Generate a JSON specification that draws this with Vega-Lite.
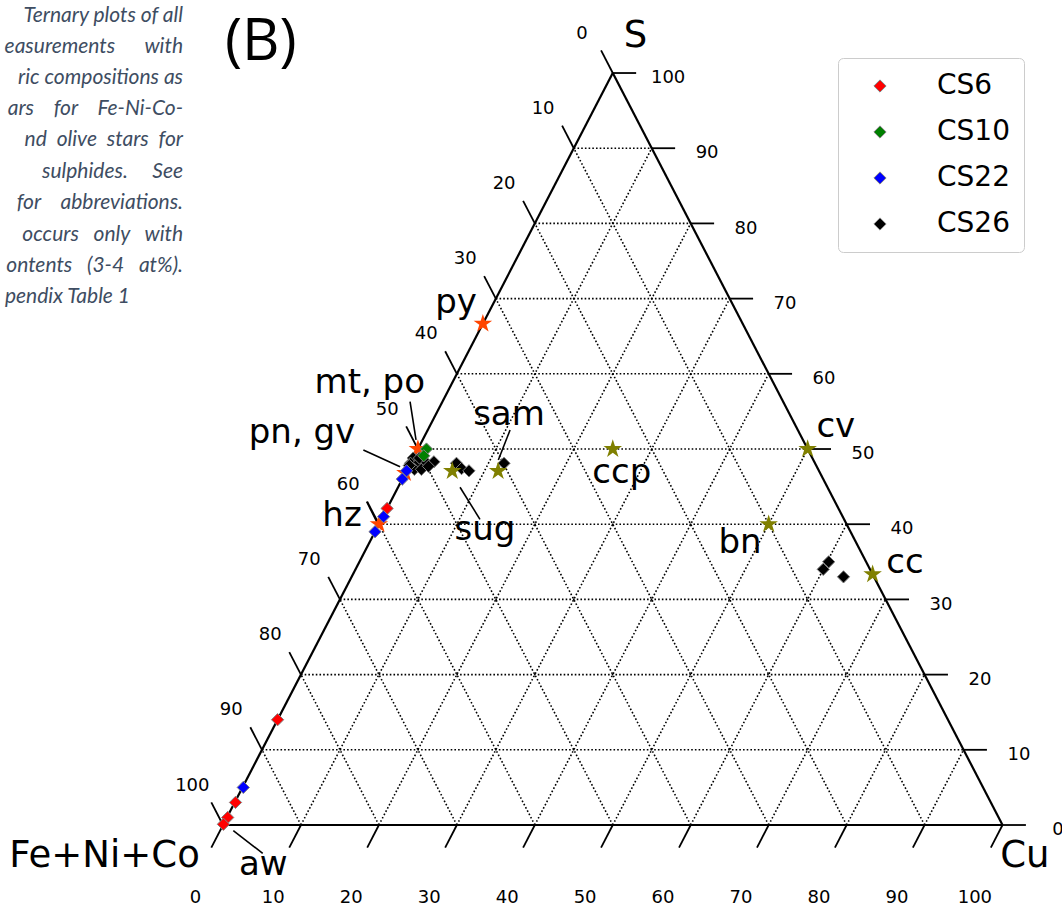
{
  "$schema": "https://vega.github.io/schema/vega-lite/v6.json",
  "width": 1062,
  "height": 906,
  "autosize": {"type": "none"},
  "padding": 0,
  "background": "white",
  "config": {"view": {"stroke": null}},
  "datasets": {
    "grid": [
      {"a": "S", "v": 0}, {"a": "S", "v": 10}, {"a": "S", "v": 20}, {"a": "S", "v": 30}, {"a": "S", "v": 40},
      {"a": "S", "v": 50}, {"a": "S", "v": 60}, {"a": "S", "v": 70}, {"a": "S", "v": 80}, {"a": "S", "v": 90},
      {"a": "Cu", "v": 0}, {"a": "Cu", "v": 10}, {"a": "Cu", "v": 20}, {"a": "Cu", "v": 30}, {"a": "Cu", "v": 40},
      {"a": "Cu", "v": 50}, {"a": "Cu", "v": 60}, {"a": "Cu", "v": 70}, {"a": "Cu", "v": 80}, {"a": "Cu", "v": 90},
      {"a": "F", "v": 0}, {"a": "F", "v": 10}, {"a": "F", "v": 20}, {"a": "F", "v": 30}, {"a": "F", "v": 40},
      {"a": "F", "v": 50}, {"a": "F", "v": 60}, {"a": "F", "v": 70}, {"a": "F", "v": 80}, {"a": "F", "v": 90}
    ],
    "ticks": [
      {"a": "S", "v": 0}, {"a": "S", "v": 10}, {"a": "S", "v": 20}, {"a": "S", "v": 30}, {"a": "S", "v": 40}, {"a": "S", "v": 50},
      {"a": "S", "v": 60}, {"a": "S", "v": 70}, {"a": "S", "v": 80}, {"a": "S", "v": 90}, {"a": "S", "v": 100},
      {"a": "Cu", "v": 0}, {"a": "Cu", "v": 10}, {"a": "Cu", "v": 20}, {"a": "Cu", "v": 30}, {"a": "Cu", "v": 40}, {"a": "Cu", "v": 50},
      {"a": "Cu", "v": 60}, {"a": "Cu", "v": 70}, {"a": "Cu", "v": 80}, {"a": "Cu", "v": 90}, {"a": "Cu", "v": 100},
      {"a": "F", "v": 0}, {"a": "F", "v": 10}, {"a": "F", "v": 20}, {"a": "F", "v": 30}, {"a": "F", "v": 40}, {"a": "F", "v": 50},
      {"a": "F", "v": 60}, {"a": "F", "v": 70}, {"a": "F", "v": 80}, {"a": "F", "v": 90}, {"a": "F", "v": 100}
    ],
    "pts": [
      {"sample": "CS26", "S": 48.8, "Cu": 0.0},
      {"sample": "CS26", "S": 48.1, "Cu": 0.0},
      {"sample": "CS26", "S": 48.1, "Cu": 1.0},
      {"sample": "CS26", "S": 48.3, "Cu": 1.8},
      {"sample": "CS26", "S": 48.3, "Cu": 2.9},
      {"sample": "CS26", "S": 47.3, "Cu": 0.9},
      {"sample": "CS26", "S": 47.3, "Cu": 1.8},
      {"sample": "CS26", "S": 47.7, "Cu": 2.5},
      {"sample": "CS26", "S": 47.8, "Cu": 0.0},
      {"sample": "CS26", "S": 48.8, "Cu": 0.8},
      {"sample": "CS26", "S": 48.1, "Cu": 5.9},
      {"sample": "CS26", "S": 47.4, "Cu": 6.9},
      {"sample": "CS26", "S": 47.1, "Cu": 8.0},
      {"sample": "CS26", "S": 48.1, "Cu": 12.0},
      {"sample": "CS26", "S": 35.0, "Cu": 60.2},
      {"sample": "CS26", "S": 34.0, "Cu": 60.0},
      {"sample": "CS26", "S": 33.0, "Cu": 63.1},
      {"sample": "CS6", "S": 14.0, "Cu": 0.0},
      {"sample": "CS6", "S": 3.0, "Cu": 0.1},
      {"sample": "CS6", "S": 1.0, "Cu": 0.1},
      {"sample": "CS6", "S": 0.1, "Cu": 0.0},
      {"sample": "CS6", "S": 42.1, "Cu": 0.0},
      {"sample": "CS10", "S": 50.0, "Cu": 1.1},
      {"sample": "CS10", "S": 49.1, "Cu": 1.2},
      {"sample": "CS22", "S": 5.0, "Cu": 0.1},
      {"sample": "CS22", "S": 47.1, "Cu": 0.0},
      {"sample": "CS22", "S": 46.0, "Cu": 0.0},
      {"sample": "CS22", "S": 41.0, "Cu": 0.1},
      {"sample": "CS22", "S": 39.0, "Cu": 0.0}
    ],
    "stars": [
      {"m": "py", "g": "Fe", "S": 66.67, "Cu": 0},
      {"m": "mt, po", "g": "Fe", "S": 50.0, "Cu": 0},
      {"m": "pn, gv", "g": "Fe", "S": 46.8, "Cu": 0},
      {"m": "hz", "g": "Fe", "S": 40.0, "Cu": 0},
      {"m": "ccp", "g": "Cu", "S": 50.0, "Cu": 25.0},
      {"m": "cv", "g": "Cu", "S": 50.0, "Cu": 50.0},
      {"m": "bn", "g": "Cu", "S": 40.0, "Cu": 50.0},
      {"m": "cc", "g": "Cu", "S": 33.33, "Cu": 66.67},
      {"m": "sam", "g": "Cu", "S": 47.06, "Cu": 11.76},
      {"m": "sug", "g": "Cu", "S": 47.06, "Cu": 5.88}
    ],
    "names": [
      {"t": "py", "S": 68.09, "Cu": -4.15},
      {"t": "mt, po", "S": 57.45, "Cu": -9.9},
      {"t": "pn, gv", "S": 50.8, "Cu": -15.27},
      {"t": "hz", "S": 39.76, "Cu": -4.61},
      {"t": "sam", "S": 53.19, "Cu": 10.09},
      {"t": "sug", "S": 37.9, "Cu": 14.66},
      {"t": "ccp", "S": 45.44, "Cu": 28.43},
      {"t": "cv", "S": 51.56, "Cu": 52.83},
      {"t": "bn", "S": 36.17, "Cu": 48.24},
      {"t": "cc", "S": 33.47, "Cu": 70.75},
      {"t": "aw", "S": -6.65, "Cu": 8.49}
    ],
    "leaders": [
      {"t": "mt, po", "S": 56.29, "Cu": -4.15, "S2": 51.2, "Cu2": -0.84},
      {"t": "pn, gv", "S": 49.87, "Cu": -6.93, "S2": 47.65, "Cu2": -1.11},
      {"t": "hz", "S": 42.99, "Cu": -3.07, "S2": 40.33, "Cu2": -0.45},
      {"t": "sam", "S": 52.53, "Cu": 10.56, "S2": 48.54, "Cu2": 11.05},
      {"t": "sug", "S": 44.91, "Cu": 7.95, "S2": 40.65, "Cu2": 12.64},
      {"t": "aw", "S": -0.76, "Cu": 1.7, "S2": -3.76, "Cu2": 6.97}
    ],
    "vertices": [
      {"t": "S", "S": 103.52, "Cu": 1.16},
      {"t": "Fe+Ni+Co", "S": -5.59, "Cu": -12.4},
      {"t": "Cu", "S": -5.59, "Cu": 105.66}
    ],
    "caption": [
      {"t": "Ternary plots of all", "x": -5.13, "y": 106.78},
      {"t": "easurements\u00a0\u00a0\u00a0\u00a0\u00a0\u00a0with", "x": -5.13, "y": 102.66},
      {"t": "ric compositions as", "x": -5.13, "y": 98.54},
      {"t": "ars\u00a0\u00a0\u00a0\u00a0for\u00a0\u00a0\u00a0\u00a0Fe-Ni-Co-", "x": -5.13, "y": 94.41},
      {"t": "nd\u00a0\u00a0olive\u00a0\u00a0stars\u00a0\u00a0for", "x": -5.13, "y": 90.29},
      {"t": "sulphides.\u00a0\u00a0\u00a0\u00a0\u00a0See", "x": -5.13, "y": 86.04},
      {"t": "for\u00a0\u00a0\u00a0\u00a0abbreviations.", "x": -5.13, "y": 81.91},
      {"t": "occurs\u00a0\u00a0\u00a0only\u00a0\u00a0\u00a0with", "x": -5.13, "y": 77.66},
      {"t": "ontents\u00a0\u00a0\u00a0(3-4\u00a0\u00a0\u00a0at%).", "x": -5.13, "y": 73.54},
      {"t": "pendix Table 1", "x": -11.93, "y": 69.41}
    ],
    "panel": [
      {"t": "(B)", "x": 4.85, "y": 101.73}
    ]
  },
  "encoding": {
    "x": {"field": "x", "type": "quantitative", "scale": {"domain": [-28.61, 107.63], "nice": false, "zero": false}, "axis": null},
    "y": {"field": "y", "type": "quantitative", "scale": {"domain": [-10.77, 109.71], "nice": false, "zero": false}, "axis": null}
  },
  "layer": [
    {
      "data": {"name": "grid"},
      "transform": [
        {"filter": "datum.v > 0"},
        {"calculate": "datum.a === 'S' ? datum.v / 2 : datum.a === 'Cu' ? datum.v : 100 - datum.v", "as": "x"},
        {"calculate": "datum.a === 'S' ? datum.v : 0", "as": "y"},
        {"calculate": "datum.a === 'S' ? 100 - datum.v / 2 : datum.a === 'Cu' ? 50 + datum.v / 2 : (100 - datum.v) / 2", "as": "x2"},
        {"calculate": "datum.a === 'S' ? datum.v : 100 - datum.v", "as": "y2"}
      ],
      "mark": {"type": "rule", "color": "black", "strokeWidth": 1.6, "strokeDash": [1.6, 2.1]},
      "encoding": {"x2": {"field": "x2"}, "y2": {"field": "y2"}}
    },
    {
      "data": {"name": "grid"},
      "transform": [
        {"filter": "datum.v === 0"},
        {"calculate": "datum.a === 'S' ? datum.v / 2 : datum.a === 'Cu' ? datum.v : 100 - datum.v", "as": "x"},
        {"calculate": "datum.a === 'S' ? datum.v : 0", "as": "y"},
        {"calculate": "datum.a === 'S' ? 100 - datum.v / 2 : datum.a === 'Cu' ? 50 + datum.v / 2 : (100 - datum.v) / 2", "as": "x2"},
        {"calculate": "datum.a === 'S' ? datum.v : 100 - datum.v", "as": "y2"}
      ],
      "mark": {"type": "rule", "color": "black", "strokeWidth": 2.2},
      "encoding": {"x2": {"field": "x2"}, "y2": {"field": "y2"}}
    },
    {
      "data": {"name": "ticks"},
      "transform": [
        {"calculate": "datum.a === 'S' ? 100 - datum.v / 2 : datum.a === 'Cu' ? datum.v : (100 - datum.v) / 2", "as": "x"},
        {"calculate": "datum.a === 'S' ? datum.v : datum.a === 'Cu' ? 0 : 100 - datum.v", "as": "y"},
        {"calculate": "datum.a === 'S' ? 103 - datum.v / 2 : datum.a === 'Cu' ? datum.v - 1.5 : (100 - datum.v) / 2 - 1.5", "as": "x2"},
        {"calculate": "datum.a === 'S' ? datum.v : datum.a === 'Cu' ? -3 : 103 - datum.v", "as": "y2"}
      ],
      "mark": {"type": "rule", "color": "black", "strokeWidth": 1.8},
      "encoding": {"x2": {"field": "x2"}, "y2": {"field": "y2"}}
    },
    {
      "data": {"name": "ticks"},
      "transform": [
        {"calculate": "datum.a === 'S' ? 107.1 - datum.v / 2 : datum.a === 'Cu' ? datum.v - 3.55 : (100 - datum.v) / 2 - 3.94", "as": "x"},
        {"calculate": "datum.a === 'S' ? datum.v - 0.7 : datum.a === 'Cu' ? -9.65 : 105.25 - datum.v", "as": "y"}
      ],
      "mark": {"type": "text", "font": "DejaVu Sans", "fontSize": 18, "align": "center", "baseline": "middle", "color": "black"},
      "encoding": {"text": {"field": "v", "type": "quantitative", "format": "d"}}
    },
    {
      "data": {"name": "leaders"},
      "transform": [
        {"calculate": "datum.Cu + datum.S / 2", "as": "x"},
        {"calculate": "datum.S", "as": "y"},
        {"calculate": "datum.Cu2 + datum.S2 / 2", "as": "x2"},
        {"calculate": "datum.S2", "as": "y2"}
      ],
      "mark": {"type": "rule", "color": "black", "strokeWidth": 1.6},
      "encoding": {"x2": {"field": "x2"}, "y2": {"field": "y2"}}
    },
    {
      "data": {"name": "stars"},
      "transform": [
        {"filter": "datum.g === 'Fe'"},
        {"calculate": "datum.Cu + datum.S / 2", "as": "x"},
        {"calculate": "datum.S", "as": "y"}
      ],
      "mark": {"type": "point", "filled": true, "opacity": 1, "color": "#ff4500", "size": 380, "shape": "M0,-1L0.2245,-0.309L0.951,-0.309L0.3633,0.118L0.588,0.809L0,0.382L-0.588,0.809L-0.3633,0.118L-0.951,-0.309L-0.2245,-0.309Z"}
    },
    {
      "data": {"name": "pts"},
      "transform": [
        {"calculate": "datum.Cu + datum.S / 2", "as": "x"},
        {"calculate": "datum.S", "as": "y"}
      ],
      "mark": {"type": "point", "filled": true, "opacity": 1, "shape": "diamond", "size": 150, "stroke": "#808080", "strokeWidth": 1},
      "encoding": {
        "color": {
          "field": "sample", "type": "nominal",
          "scale": {"domain": ["CS6", "CS10", "CS22", "CS26"], "range": ["#ff0000", "#008000", "#0000ff", "#000000"]},
          "legend": {
            "title": null, "orient": "none", "legendX": 838, "legendY": 58,
            "padding": 14, "symbolOffset": 14, "labelOffset": 43,
            "labelFont": "DejaVu Sans", "labelFontSize": 28, "labelColor": "black",
            "rowPadding": 18, "strokeColor": "#cccccc", "cornerRadius": 5, "fillColor": "white",
            "symbolType": "diamond", "symbolSize": 150, "symbolStrokeColor": "#808080", "symbolStrokeWidth": 1, "symbolOpacity": 1
          }
        }
      }
    },
    {
      "data": {"name": "stars"},
      "transform": [
        {"filter": "datum.g === 'Cu'"},
        {"calculate": "datum.Cu + datum.S / 2", "as": "x"},
        {"calculate": "datum.S", "as": "y"}
      ],
      "mark": {"type": "point", "filled": true, "opacity": 1, "color": "#808000", "size": 380, "shape": "M0,-1L0.2245,-0.309L0.951,-0.309L0.3633,0.118L0.588,0.809L0,0.382L-0.588,0.809L-0.3633,0.118L-0.951,-0.309L-0.2245,-0.309Z"}
    },
    {
      "data": {"name": "names"},
      "transform": [
        {"calculate": "datum.Cu + datum.S / 2", "as": "x"},
        {"calculate": "datum.S", "as": "y"}
      ],
      "mark": {"type": "text", "font": "DejaVu Sans", "fontSize": 34, "align": "center", "baseline": "alphabetic", "color": "black"},
      "encoding": {"text": {"field": "t"}}
    },
    {
      "data": {"name": "vertices"},
      "transform": [
        {"calculate": "datum.Cu + datum.S / 2", "as": "x"},
        {"calculate": "datum.S", "as": "y"}
      ],
      "mark": {"type": "text", "font": "DejaVu Sans", "fontSize": 37, "align": "center", "baseline": "alphabetic", "color": "black"},
      "encoding": {"text": {"field": "t"}}
    },
    {
      "data": {"name": "panel"},
      "mark": {"type": "text", "font": "Open Sans", "fontSize": 58, "align": "center", "baseline": "alphabetic", "color": "black"},
      "encoding": {"text": {"field": "t"}}
    },
    {
      "data": {"name": "caption"},
      "mark": {"type": "text", "font": "Lato", "fontStyle": "italic", "fontSize": 21, "align": "right", "baseline": "alphabetic", "color": "#3e4d62"},
      "encoding": {"text": {"field": "t"}}
    }
  ]
}
